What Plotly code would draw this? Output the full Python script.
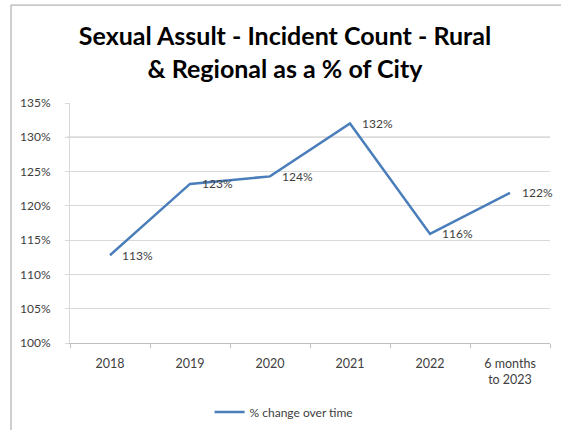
import plotly.graph_objects as go

categories = ["2018", "2019", "2020", "2021", "2022", "6 months<br>to 2023"]
values = [1.128, 1.232, 1.243, 1.320, 1.159, 1.219]
labels = ["113%", "123%", "124%", "132%", "116%", "122%"]
series_name = "% change over time"
title_text = "<b>Sexual Assult - Incident Count - Rural<br>& Regional as a % of City</b>"
y_ticks = [1.00, 1.05, 1.10, 1.15, 1.20, 1.25, 1.30, 1.35]
highlight_level = 1.30

FONT = "Lato"
fig = go.Figure()
fig.add_trace(go.Scatter(
    x=list(range(len(categories))), y=values, mode="lines", name=series_name,
    line=dict(color="#4a7ebb", width=2.5),
    showlegend=True,
))

for i, (v, t) in enumerate(zip(values, labels)):
    fig.add_annotation(x=i, y=v, xref="x", yref="y", text=t, showarrow=False,
                       xanchor="left", yanchor="middle", xshift=10,
                       font=dict(family=FONT, size=12, color="#404040"))

# darker highlighted gridline
fig.add_shape(type="line", xref="paper", x0=-0.006, x1=1, yref="y",
              y0=highlight_level, y1=highlight_level,
              line=dict(color="#808080", width=1), layer="below")

# outer chart border (left and top)
fig.add_shape(type="line", xref="paper", yref="paper", x0=-0.1229, x1=-0.1229,
              y0=-0.40, y1=1.408, line=dict(color="#a0a0a0", width=1))
fig.add_shape(type="line", xref="paper", yref="paper", x0=-0.1229, x1=1.1,
              y0=1.408, y1=1.408, line=dict(color="#a0a0a0", width=1))

fig.update_layout(
    width=561, height=430,
    margin=dict(l=70, r=11, t=103, b=87, autoexpand=False),
    paper_bgcolor="white", plot_bgcolor="white",
    title=dict(text=title_text, x=0.508, xanchor="center", xref="container",
               y=0.8945, yanchor="middle", yref="container",
               font=dict(family=FONT, size=25, color="#000000")),
    legend=dict(orientation="h", x=0.446, xanchor="center", y=-0.2875,
                yanchor="middle", font=dict(family=FONT, size=12, color="#404040"),
                bgcolor="rgba(0,0,0,0)"),
    font=dict(family=FONT, size=12, color="#404040"),
)
fig.update_xaxes(
    tickmode="array", tickvals=list(range(len(categories))), ticktext=categories,
    showgrid=False, showline=True, linecolor="#bfbfbf", linewidth=1,
    ticks="", automargin=False, ticklabelstandoff=9,
    tickfont=dict(family=FONT, size=12.5, color="#404040"),
    range=[-0.5, len(categories) - 0.5], zeroline=False,
    minor=dict(tickmode="array", tickvals=[i - 0.5 for i in range(len(categories) + 1)],
               ticks="outside", ticklen=4, tickcolor="#bfbfbf", showgrid=False),
)
fig.update_yaxes(
    range=[1.0, 1.35], tickvals=y_ticks, tickformat=".0%",
    showgrid=True, gridcolor="#d9d9d9", gridwidth=1,
    showline=True, linecolor="#d9d9d9", linewidth=1,
    ticks="outside", ticklen=4, tickcolor="#d9d9d9",
    ticklabelstandoff=12, automargin=False,
    tickfont=dict(family=FONT, size=12, color="#404040"),
    zeroline=False,
)

fig.write_html(
    "out.html",
    config={"displayModeBar": False},
    post_script="document.body.style.margin='0';document.body.style.overflow='hidden';",
)
